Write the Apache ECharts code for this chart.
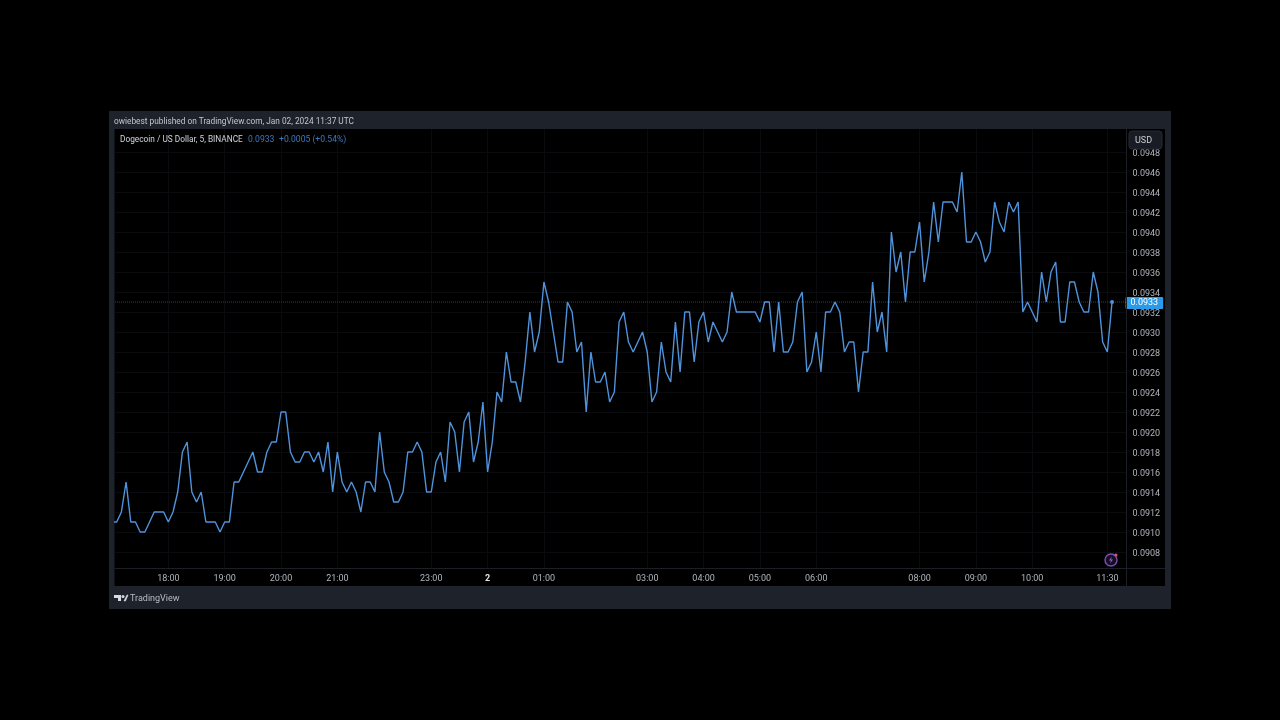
<!DOCTYPE html>
<html><head><meta charset="utf-8">
<style>html,body{margin:0;padding:0;background:#000}#c{width:1280px;height:720px}</style>
<script src="https://cdn.jsdelivr.net/npm/echarts@6/dist/echarts.min.js"></script>
</head><body><div id="c"></div>
<script>
// Close price in units of 0.0001, one entry per 5-minute bar; the first bar sits just off the left edge
const closes = [911,
911,912,915,911,911,910,910,911,912,912,912,911,912,914,918,919,914,913,914,911,
911,911,910,911,911,915,915,916,917,918,916,916,918,919,919,922,922,918,917,917,
918,918,917,918,916,919,914,918,915,914,915,914,912,915,915,914,920,916,915,913,
913,914,918,918,919,918,914,914,917,918,915,921,920,916,921,922,917,919,923,916,
919,924,923,928,925,925,923,927,932,928,930,935,933,930,927,927,933,932,928,929,
922,928,925,925,926,923,924,931,932,929,928,929,930,928,923,924,929,926,925,931,
926,932,932,927,931,932,929,931,930,929,930,934,932,932,932,932,932,931,933,933,
928,933,928,928,929,933,934,926,927,930,926,932,932,933,932,928,929,929,924,928,
928,935,930,932,928,940,936,938,933,938,938,941,935,938,943,939,943,943,943,942,
946,939,939,940,939,937,938,943,941,940,943,942,943,932,933,932,931,936,933,936,
937,931,931,935,935,933,932,932,936,934,929,928,933];
// x position (bar number) and text of the time labels
const timeTicks = [11,23,35,47,67,79,91,113,125,137,149,171,183,195,211];
const timeLabels = ['18:00','19:00','20:00','21:00','23:00','2','01:00','03:00','04:00','05:00','06:00','08:00','09:00','10:00','11:30'];
const priceTicks = ['0.0908','0.0910','0.0912','0.0914','0.0916','0.0918','0.0920','0.0922','0.0924','0.0926','0.0928','0.0930','0.0932','0.0934','0.0936','0.0938','0.0940','0.0942','0.0944','0.0946','0.0948'];
const lastPrice = 0.0933;
const barMin = -0.36, barMax = 215.08;
const publishedText = 'owiebest published on TradingView.com, Jan 02, 2024 11:37 UTC';
const symbolText = 'Dogecoin / US Dollar, 5, BINANCE';
const quoteParts = ['0.0933', '+0.0005 (+0.54%)'];

const points = closes.map((c, i) => [i - 1, c / 10000]);
const font = 'Roboto';
const grid = {left: 115, right: 1280 - 1126.5, top: 129, bottom: 720 - 568};
const chart = echarts.init(document.getElementById('c'), null, {renderer: 'canvas'});
const text = (x, y, t, fill, size) => ({type: 'text', x, y, z: 20, silent: true,
  style: {text: t, fill, font: (size || 8.3) + 'px ' + font, textVerticalAlign: 'middle'}});
chart.setOption({
  animation: false,
  backgroundColor: '#000',
  grid,
  xAxis: {
    type: 'value', min: barMin, max: barMax,
    axisLine: {show: false},
    axisTick: {show: false, customValues: timeTicks},
    axisLabel: {customValues: timeTicks, color: '#b2b5be', fontFamily: font, fontSize: 9, margin: 6, hideOverlap: false,
      formatter: v => { const s = timeLabels[timeTicks.indexOf(v)]; return s === '2' ? '{b|2}' : s; },
      rich: {b: {fontWeight: 'bold', color: '#e4e6eb', fontFamily: font, fontSize: 9}}},
    splitLine: {show: true, lineStyle: {color: '#0a0b0f', width: 1}}
  },
  yAxis: {
    type: 'value', position: 'right', min: 0.09064, max: 0.09503,
    axisLine: {show: false},
    axisTick: {show: false, customValues: priceTicks.map(Number)},
    axisLabel: {customValues: priceTicks.map(Number), margin: 6,
      formatter: v => '{t|' + Number(v).toFixed(4) + '}',
      rich: {t: {color: '#b2b5be', fontFamily: font, fontSize: 9, padding: [3, 0, 0, 0]}}},
    splitLine: {show: true, lineStyle: {color: '#0a0b0f', width: 1}}
  },
  series: [{
    type: 'line', data: [[barMin, lastPrice], [barMax, lastPrice]], symbol: 'none', z: 1,
    lineStyle: {color: '#2f4258', type: 'dotted', width: 1},
    endLabel: {show: true, distance: 0, offset: [-1, 1], formatter: () => lastPrice.toFixed(4), color: '#fff', fontFamily: font, fontSize: 9,
      backgroundColor: '#2a9be8', padding: [2, 5, 1, 5], borderRadius: 1}
  }, {
    type: 'line', data: points, symbol: 'none', smooth: false, z: 3,
    lineStyle: {color: '#4f93dc', width: 1.4},
    markPoint: {silent: true, symbol: 'circle', symbolSize: 4, itemStyle: {color: '#4f93dc'}, label: {show: false},
      data: [{coord: points[points.length - 1]}]}
  }],
  graphic: {elements: [
    {type: 'rect', z: -100, silent: true, shape: {x: 109, y: 111, width: 1062, height: 498}, style: {fill: '#1d222b'}},
    {type: 'rect', z: -99, silent: true, shape: {x: 114.5, y: 129, width: 1050.5, height: 457}, style: {fill: '#000'}},
    {type: 'line', z: 5, silent: true, shape: {x1: 115, y1: 568.5, x2: 1165, y2: 568.5}, style: {stroke: '#1c1f26', lineWidth: 1}},
    {type: 'line', z: 5, silent: true, shape: {x1: 1126.5, y1: 129, x2: 1126.5, y2: 586}, style: {stroke: '#1c1f26', lineWidth: 1}},
    text(114, 122, publishedText, '#c3c6ce'),
    text(120, 140, symbolText, '#d1d4dc'),
    text(248, 140, quoteParts[0], '#3f77bd', 8.6),
    text(279, 140, quoteParts[1], '#3f77bd', 8.6),
    {type: 'rect', z: 19, silent: true, shape: {x: 1129, y: 131, width: 33, height: 18, r: 3}, style: {fill: '#191c24', stroke: '#262a33', lineWidth: 1}},
    text(1135, 141, 'USD', '#c9ccd4', 9),
    // TradingView logo
    {type: 'polygon', z: 20, silent: true, shape: {points: [[114,595],[121,595],[121,601],[118,601],[118,598],[114,598]]}, style: {fill: '#d8dbe2'}},
    {type: 'circle', z: 20, silent: true, shape: {cx: 123, cy: 596.5, r: 1.5}, style: {fill: '#d8dbe2'}},
    {type: 'polygon', z: 20, silent: true, shape: {points: [[124,601],[127,595],[128,595],[125.5,601]]}, style: {fill: '#d8dbe2', stroke: '#d8dbe2', lineWidth: 0.6}},
    text(130, 599, 'TradingView', '#b9bcc4', 9),
    // Lightning badge
    {type: 'circle', z: 20, silent: true, shape: {cx: 1111, cy: 560, r: 6}, style: {fill: '#160f24', stroke: '#7b4fb5', lineWidth: 1.4}},
    {type: 'polygon', z: 21, silent: true, shape: {points: [[1112,556.5],[1109,560.5],[1111,560.5],[1110,563.5],[1113,559.5],[1111,559.5]]}, style: {fill: '#8f63cc'}},
    {type: 'circle', z: 22, silent: true, shape: {cx: 1116, cy: 555, r: 1.5}, style: {fill: '#e0556a'}}
  ]}
});
</script></body></html>
